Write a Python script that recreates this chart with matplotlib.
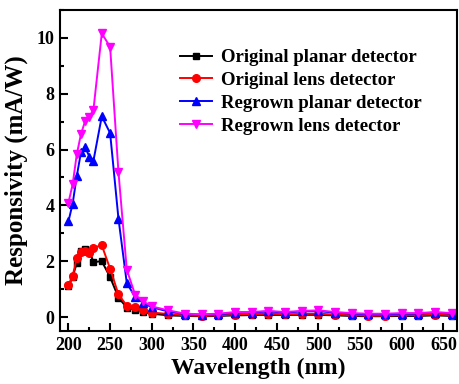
import numpy as np
import matplotlib.pyplot as plt
from matplotlib.ticker import MultipleLocator

# wavelengths (nm)
wavelength = [200, 205, 210, 215, 220, 225, 230, 240, 250, 260, 270, 280, 290, 300,
              320, 340, 360, 380, 400, 420, 440, 460, 480, 500, 520, 540, 560, 580,
              600, 620, 640, 660]

# responsivity (mA/W)
orig_planar = [1.10, 1.45, 1.93, 2.38, 2.42, 2.38, 1.97, 2.00, 1.43, 0.70, 0.34, 0.27,
               0.18, 0.12, 0.06, 0.04, 0.03, 0.04, 0.06, 0.07, 0.08, 0.07, 0.08, 0.08,
               0.06, 0.04, 0.03, 0.03, 0.04, 0.04, 0.06, 0.04]
orig_lens = [1.14, 1.47, 2.12, 2.33, 2.36, 2.28, 2.49, 2.57, 1.73, 0.81, 0.41, 0.35,
             0.25, 0.16, 0.11, 0.06, 0.05, 0.06, 0.09, 0.10, 0.12, 0.10, 0.11, 0.12,
             0.09, 0.07, 0.05, 0.05, 0.07, 0.07, 0.09, 0.07]
regrown_planar = [3.43, 4.06, 5.05, 5.90, 6.09, 5.75, 5.60, 7.19, 6.59, 3.53, 1.22, 0.72,
                  0.50, 0.35, 0.20, 0.10, 0.08, 0.10, 0.15, 0.16, 0.20, 0.16, 0.20, 0.21,
                  0.16, 0.12, 0.10, 0.10, 0.12, 0.12, 0.16, 0.12]
regrown_lens = [4.10, 4.75, 5.83, 6.55, 7.02, 7.17, 7.43, 10.16, 9.68, 5.20, 1.70, 0.80,
                0.56, 0.38, 0.24, 0.12, 0.10, 0.12, 0.18, 0.18, 0.22, 0.18, 0.22, 0.24,
                0.18, 0.14, 0.12, 0.12, 0.14, 0.14, 0.18, 0.14]

plt.rcParams['font.family'] = ['Liberation Serif', 'DejaVu Serif']
plt.rcParams['font.weight'] = 'bold'

fig = plt.figure(figsize=(4.59, 3.84), dpi=100)
ax = fig.add_axes([0.131, 0.138, 0.864, 0.836])

ax.plot(wavelength, orig_planar, '-s', color='black', lw=1.4, ms=5,
        label='Original planar detector')
ax.plot(wavelength, orig_lens, '-o', color='red', lw=1.4, ms=5.5,
        label='Original lens detector')
ax.plot(wavelength, regrown_planar, '-^', color='blue', lw=1.4, ms=6,
        label='Regrown planar detector')
ax.plot(wavelength, regrown_lens, '-v', color='magenta', lw=1.4, ms=6,
        label='Regrown lens detector')

ax.set_xlim(190, 666)
ax.set_ylim(-0.5, 11)
ax.xaxis.set_major_locator(MultipleLocator(50))
ax.xaxis.set_minor_locator(MultipleLocator(25))
ax.yaxis.set_major_locator(MultipleLocator(2))
ax.yaxis.set_minor_locator(MultipleLocator(1))
ax.tick_params(which='both', direction='in', top=False, right=False, labelsize=13,
               width=1.5)
ax.tick_params(which='major', length=6, pad=4)
ax.tick_params(which='minor', length=3)
for s in ax.spines.values():
    s.set_linewidth(1.5)

ax.set_xlabel('Wavelength (nm)', fontsize=17, fontweight='bold', labelpad=3)
ax.set_ylabel('Responsivity (mA/W)', fontsize=18, fontweight='bold', labelpad=6)

leg = ax.legend(loc='upper left', bbox_to_anchor=(0.302, 0.878), frameon=False,
                fontsize=13.5, handlelength=1.7, handletextpad=0.5,
                labelspacing=0.3, borderaxespad=0, borderpad=0)

fig.savefig('out.png', dpi=100)
